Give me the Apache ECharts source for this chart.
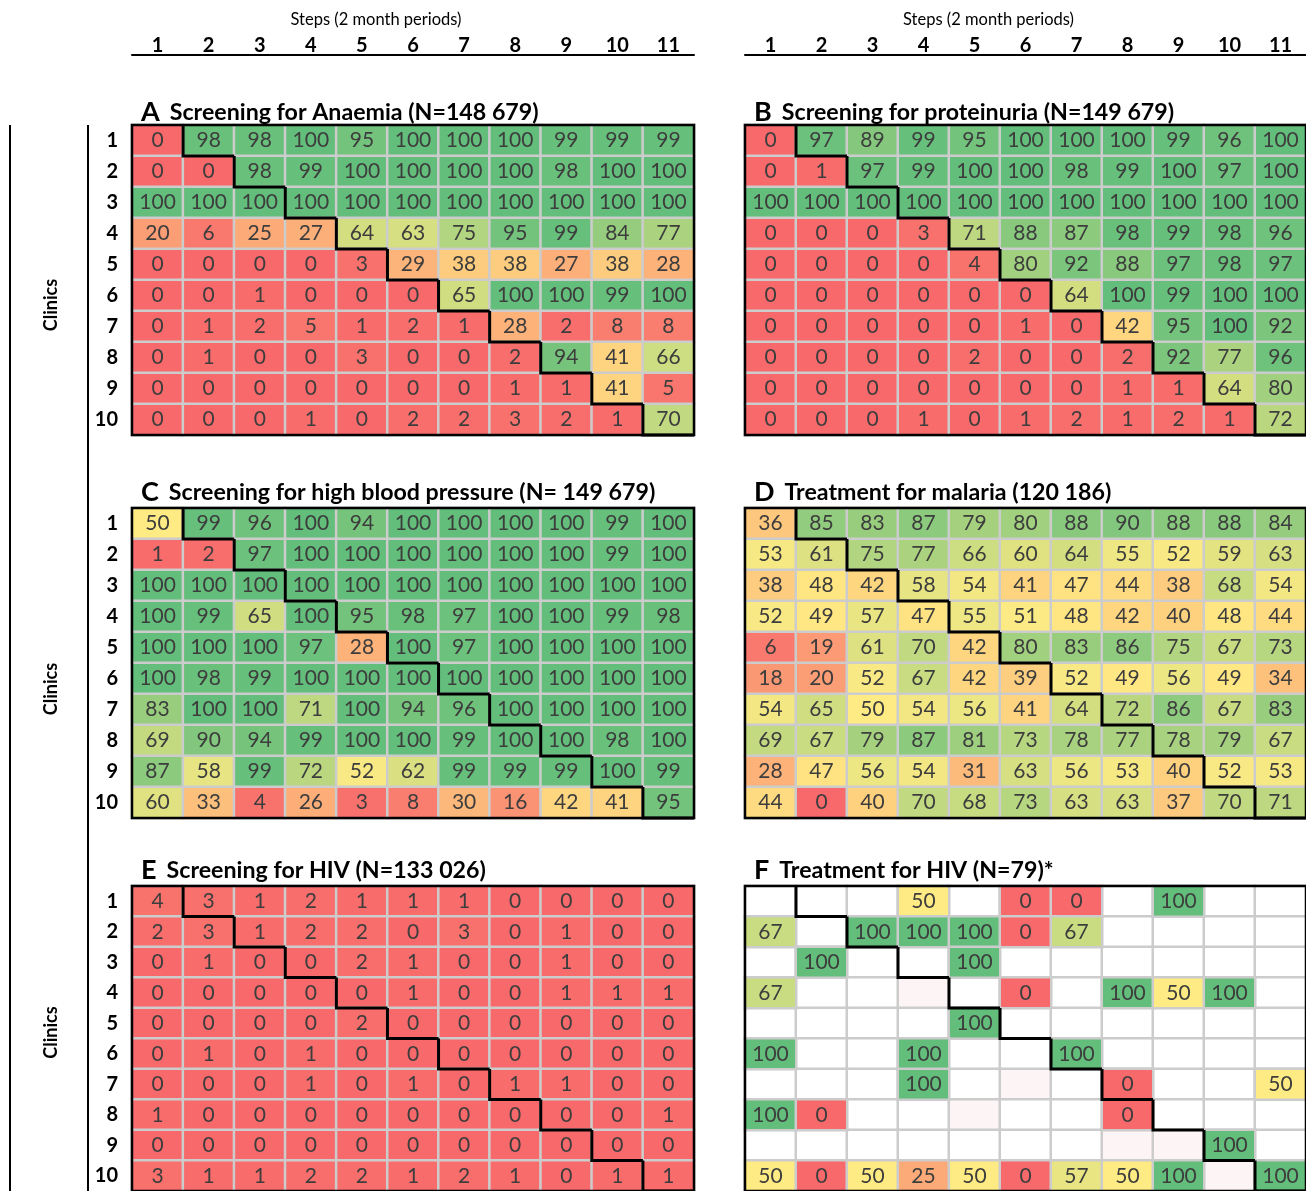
<!DOCTYPE html>
<html>
<head>
<meta charset="utf-8">
<title>Stepped-wedge heatmaps</title>
<script src="https://cdn.jsdelivr.net/npm/echarts@6/dist/echarts.min.js"></script>
<style>
  html, body { margin: 0; padding: 0; background: #fff; }
  #chart { width: 1306px; height: 1191px; }
</style>
</head>
<body>
<div id="chart"></div>
<script>
const steps = ['1', '2', '3', '4', '5', '6', '7', '8', '9', '10', '11'];
const clinics = ['1', '2', '3', '4', '5', '6', '7', '8', '9', '10'];
// step at which each clinic crosses over (black staircase)
const switchStep = [2, 3, 4, 5, 6, 7, 8, 9, 10, 11];

const anaemia = [
  [0, 98, 98, 100, 95, 100, 100, 100, 99, 99, 99],
  [0, 0, 98, 99, 100, 100, 100, 100, 98, 100, 100],
  [100, 100, 100, 100, 100, 100, 100, 100, 100, 100, 100],
  [20, 6, 25, 27, 64, 63, 75, 95, 99, 84, 77],
  [0, 0, 0, 0, 3, 29, 38, 38, 27, 38, 28],
  [0, 0, 1, 0, 0, 0, 65, 100, 100, 99, 100],
  [0, 1, 2, 5, 1, 2, 1, 28, 2, 8, 8],
  [0, 1, 0, 0, 3, 0, 0, 2, 94, 41, 66],
  [0, 0, 0, 0, 0, 0, 0, 1, 1, 41, 5],
  [0, 0, 0, 1, 0, 2, 2, 3, 2, 1, 70]
];
const proteinuria = [
  [0, 97, 89, 99, 95, 100, 100, 100, 99, 96, 100],
  [0, 1, 97, 99, 100, 100, 98, 99, 100, 97, 100],
  [100, 100, 100, 100, 100, 100, 100, 100, 100, 100, 100],
  [0, 0, 0, 3, 71, 88, 87, 98, 99, 98, 96],
  [0, 0, 0, 0, 4, 80, 92, 88, 97, 98, 97],
  [0, 0, 0, 0, 0, 0, 64, 100, 99, 100, 100],
  [0, 0, 0, 0, 0, 1, 0, 42, 95, 100, 92],
  [0, 0, 0, 0, 2, 0, 0, 2, 92, 77, 96],
  [0, 0, 0, 0, 0, 0, 0, 1, 1, 64, 80],
  [0, 0, 0, 1, 0, 1, 2, 1, 2, 1, 72]
];
const bloodPressure = [
  [50, 99, 96, 100, 94, 100, 100, 100, 100, 99, 100],
  [1, 2, 97, 100, 100, 100, 100, 100, 100, 99, 100],
  [100, 100, 100, 100, 100, 100, 100, 100, 100, 100, 100],
  [100, 99, 65, 100, 95, 98, 97, 100, 100, 99, 98],
  [100, 100, 100, 97, 28, 100, 97, 100, 100, 100, 100],
  [100, 98, 99, 100, 100, 100, 100, 100, 100, 100, 100],
  [83, 100, 100, 71, 100, 94, 96, 100, 100, 100, 100],
  [69, 90, 94, 99, 100, 100, 99, 100, 100, 98, 100],
  [87, 58, 99, 72, 52, 62, 99, 99, 99, 100, 99],
  [60, 33, 4, 26, 3, 8, 30, 16, 42, 41, 95]
];
const malaria = [
  [36, 85, 83, 87, 79, 80, 88, 90, 88, 88, 84],
  [53, 61, 75, 77, 66, 60, 64, 55, 52, 59, 63],
  [38, 48, 42, 58, 54, 41, 47, 44, 38, 68, 54],
  [52, 49, 57, 47, 55, 51, 48, 42, 40, 48, 44],
  [6, 19, 61, 70, 42, 80, 83, 86, 75, 67, 73],
  [18, 20, 52, 67, 42, 39, 52, 49, 56, 49, 34],
  [54, 65, 50, 54, 56, 41, 64, 72, 86, 67, 83],
  [69, 67, 79, 87, 81, 73, 78, 77, 78, 79, 67],
  [28, 47, 56, 54, 31, 63, 56, 53, 40, 52, 53],
  [44, 0, 40, 70, 68, 73, 63, 63, 37, 70, 71]
];
const hivScreening = [
  [4, 3, 1, 2, 1, 1, 1, 0, 0, 0, 0],
  [2, 3, 1, 2, 2, 0, 3, 0, 1, 0, 0],
  [0, 1, 0, 0, 2, 1, 0, 0, 1, 0, 0],
  [0, 0, 0, 0, 0, 1, 0, 0, 1, 1, 1],
  [0, 0, 0, 0, 2, 0, 0, 0, 0, 0, 0],
  [0, 1, 0, 1, 0, 0, 0, 0, 0, 0, 0],
  [0, 0, 0, 1, 0, 1, 0, 1, 1, 0, 0],
  [1, 0, 0, 0, 0, 0, 0, 0, 0, 0, 1],
  [0, 0, 0, 0, 0, 0, 0, 0, 0, 0, 0],
  [3, 1, 1, 2, 2, 1, 2, 1, 0, 1, 1]
];
const _ = null;
const hivTreatment = [
  [_, _, _, 50, _, 0, 0, _, 100, _, _],
  [67, _, 100, 100, 100, 0, 67, _, _, _, _],
  [_, 100, _, _, 100, _, _, _, _, _, _],
  [67, _, _, _, _, 0, _, 100, 50, 100, _],
  [_, _, _, _, 100, _, _, _, _, _, _],
  [100, _, _, 100, _, _, 100, _, _, _, _],
  [_, _, _, 100, _, _, _, 0, _, _, 50],
  [100, 0, _, _, _, _, _, 0, _, _, _],
  [_, _, _, _, _, _, _, _, _, 100, _],
  [50, 0, 50, 25, 50, 0, 57, 50, 100, _, 100]
];
// blank cells that carry a very faint tint in F ([step index, clinic index])
const hivTreatmentFaint = [[3, 3], [5, 6], [4, 7], [7, 8], [8, 8], [9, 9]];

const panels = [
  { letter: 'A', title: 'Screening for Anaemia (N=148 679)', values: anaemia },
  { letter: 'B', title: 'Screening for proteinuria (N=149 679)', values: proteinuria },
  { letter: 'C', title: 'Screening for high blood pressure (N= 149 679)', values: bloodPressure },
  { letter: 'D', title: 'Treatment for malaria (120 186)', values: malaria },
  { letter: 'E', title: 'Screening for HIV (N=133 026)', values: hivScreening },
  { letter: 'F', title: 'Treatment for HIV (N=79)*', values: hivTreatment, faint: hivTreatmentFaint }
];

const FONT = 'Lato, "Open Sans", sans-serif';
const colLeft = [132, 745];
const rowTop = [125, 508, 886];
const titleLift = [31, 34, 34];
const clinicsShift = [[0, 50], [0, 52], [12, 0]];
const gridW = 562;
const gridH = 310;

const grids = [], xAxes = [], yAxes = [], titles = [], series = [];
const valueSeries = [];

panels.forEach((p, i) => {
  const col = i % 2;
  const row = Math.floor(i / 2);
  grids.push({ left: colLeft[col], top: rowTop[row], width: gridW, height: gridH });

  const isTop = row === 0;
  xAxes.push({
    gridIndex: i,
    type: 'category',
    data: steps,
    position: 'top',
    offset: 70,
    show: isTop,
    axisLine: { show: isTop, lineStyle: { color: '#000', width: 2 } },
    axisTick: { show: false },
    axisLabel: { show: isTop, margin: -1, fontSize: 20, fontWeight: 'bold', color: '#000', fontFamily: FONT },
    splitLine: { show: false },
    name: isTop ? 'Steps (2 month periods)' : '',
    nameLocation: 'middle',
    nameGap: 27,
    nameTextStyle: { fontSize: 16.5, color: '#000', fontFamily: FONT, padding: [0, 74, 0, 0] }
  });

  const isLeft = col === 0;
  const sh = clinicsShift[row];
  yAxes.push({
    gridIndex: i,
    type: 'category',
    data: clinics,
    inverse: true,
    axisLine: { show: false },
    axisTick: { show: false },
    axisLabel: { show: isLeft, margin: 14, fontSize: 20, fontWeight: 'bold', color: '#000', fontFamily: FONT },
    splitLine: { show: false },
    name: isLeft ? 'Clinics' : '',
    nameLocation: 'middle',
    nameRotate: 90,
    nameGap: 72,
    nameTextStyle: { fontSize: 18, fontWeight: 'bold', color: '#000', fontFamily: FONT, padding: [0, sh[1], 0, sh[0]] }
  });

  titles.push({
    left: colLeft[col] + 4,
    top: rowTop[row] - titleLift[row],
    text: '{l|' + p.letter + '}  {t|' + p.title + '}',
    textStyle: {
      rich: {
        l: { fontSize: 27, fontWeight: 'bold', color: '#000', fontFamily: FONT },
        t: { fontSize: 23.2, fontWeight: 'bold', color: '#000', fontFamily: FONT }
      }
    }
  });

  const cells = [];
  const allCells = [];
  p.values.forEach((rowVals, r) => {
    rowVals.forEach((v, c) => {
      allCells.push([c, r, 0]);
      if (v !== null) cells.push([c, r, v]);
    });
  });

  if (cells.length < allCells.length) {
    const faintKeys = (p.faint || []).map(d => d[0] + ',' + d[1]);
    series.push({
      type: 'heatmap',
      xAxisIndex: i,
      yAxisIndex: i,
      z: 1,
      silent: true,
      data: allCells.map(d => faintKeys.includes(d[0] + ',' + d[1])
        ? { value: d, itemStyle: { color: '#FDF5F5' } }
        : d),
      itemStyle: { color: '#fff', borderColor: '#CCCCCC', borderWidth: 2.5 },
      label: { show: false }
    });
  }

  valueSeries.push(series.length);
  series.push({
    type: 'heatmap',
    xAxisIndex: i,
    yAxisIndex: i,
    z: 2,
    data: cells,
    itemStyle: { borderColor: '#CCCCCC', borderWidth: 2.5 },
    label: {
      show: true,
      formatter: prm => prm.value[2],
      fontSize: 21,
      color: '#3d3d3d',
      fontFamily: FONT
    },
    emphasis: { disabled: true }
  });

  // staircase showing the crossover point of each clinic
  series.push({
    type: 'custom',
    xAxisIndex: i,
    yAxisIndex: i,
    z: 4,
    silent: true,
    data: switchStep.map((s, r) => [s - 1, r]),
    renderItem: (params, api) => {
      const c = api.coord([api.value(0), api.value(1)]);
      const s = api.size([1, 1]);
      const x0 = c[0] - s[0] / 2;
      const x1 = c[0] + s[0] / 2;
      const yt = c[1] - s[1] / 2;
      const yb = c[1] + s[1] / 2;
      return {
        type: 'polyline',
        shape: { points: [[x0, yt], [x0, yb], [x1, yb]] },
        style: { stroke: '#000', lineWidth: 3, fill: null }
      };
    }
  });

  // outer frame of the panel
  series.push({
    type: 'custom',
    xAxisIndex: i,
    yAxisIndex: i,
    z: 4,
    silent: true,
    data: [[0, 0, steps.length - 1, clinics.length - 1]],
    renderItem: (params, api) => {
      const a = api.coord([api.value(0), api.value(1)]);
      const b = api.coord([api.value(2), api.value(3)]);
      const s = api.size([1, 1]);
      return {
        type: 'rect',
        shape: {
          x: a[0] - s[0] / 2,
          y: a[1] - s[1] / 2,
          width: b[0] - a[0] + s[0],
          height: b[1] - a[1] + s[1]
        },
        style: { stroke: '#000', lineWidth: 2.5, fill: null }
      };
    }
  });
});

const chart = echarts.init(document.getElementById('chart'));
chart.setOption({
  animation: false,
  backgroundColor: '#fff',
  title: titles,
  grid: grids,
  xAxis: xAxes,
  yAxis: yAxes,
  visualMap: {
    type: 'continuous',
    show: false,
    min: 0,
    max: 100,
    dimension: 2,
    seriesIndex: valueSeries,
    inRange: { color: ['#F8696B', '#FFEB84', '#63BE7B'] }
  },
  graphic: [
    { type: 'line', shape: { x1: 10, y1: 125, x2: 10, y2: 1191 }, style: { stroke: '#000', lineWidth: 2 } },
    { type: 'line', shape: { x1: 88, y1: 125, x2: 88, y2: 1191 }, style: { stroke: '#000', lineWidth: 2 } }
  ],
  series: series
});
</script>
</body>
</html>
